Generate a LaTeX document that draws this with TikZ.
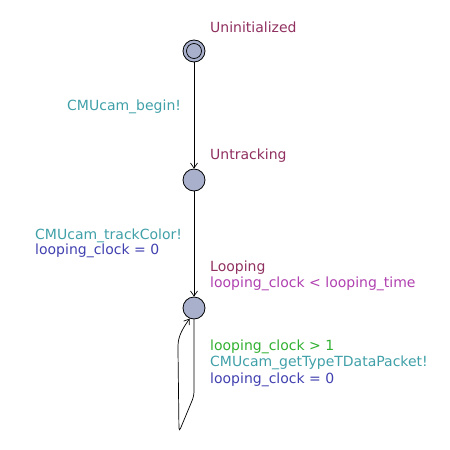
\documentclass[tikz,border=0pt]{standalone}
\usepackage{fontspec}
\setmainfont{DejaVu Sans}
\usepackage{xcolor}
\usepackage{tikz}
\usetikzlibrary{positioning,calc,arrows.meta}

\definecolor{locname}{RGB}{144,48,96}
\definecolor{syncclr}{RGB}{64,160,168}
\definecolor{assignclr}{RGB}{64,64,176}
\definecolor{guardclr}{RGB}{48,176,48}
\definecolor{invclr}{RGB}{176,64,176}
\definecolor{locfill}{RGB}{168,176,204}

\tikzset{
    loc/.style={circle, draw, fill=locfill, minimum size=22pt, inner sep=0pt, line width=0.8pt},
    lbl/.style={anchor=west, inner sep=0pt, font=\fontsize{14}{16}\selectfont, align=left},
    edge/.style={-{Straight Barb[length=5pt,width=7pt]}, line width=0.7pt}
}

\begin{document}
\begin{tikzpicture}[x=1pt, y=-1pt]
    \useasboundingbox (0,0) rectangle (450,450);

    % Locations
    \node[loc] (uninit) at (194,51) {};
    \node[circle, draw, minimum size=15pt, inner sep=0pt, line width=0.7pt] (uninitin) at (uninit) {};
    \node[loc] (untrack) at (194,180) {};
    \node[loc] (loop) at (194,308) {};

    % Location names and invariant
    \node[lbl, text=locname] (nuninit) at (210,27) {Uninitialized};
    \node[lbl, text=locname] (nuntrack) at (210,156) {Untracking};
    \node[lbl, text=locname] (nloop) at (210,268) {Looping};
    \node[lbl, text=invclr] (inv) at (210,284) {looping\_clock < looping\_time};

    % Edges
    \draw[edge] (uninit) -- (untrack);
    \draw[edge] (untrack) -- (loop);

    % Self loop on Looping
    \coordinate (lpa) at (194,396);
    \coordinate (lpb) at (179,432);
    \coordinate (lpc) at (178,350);
    \draw[edge, rounded corners=4pt] (loop.south) -- (lpa) -- (lpb) -- (lpc) [rounded corners=0pt] .. controls (178,336) and (183,328) .. (loop.-112);

    % Edge labels
    \node[lbl, text=syncclr] (sbegin) at (67,107) {CMUcam\_begin!};
    \node[lbl, text=syncclr] (strack) at (35,236) {CMUcam\_trackColor!};
    \node[lbl, text=assignclr] (atrack) at (35,251) {looping\_clock = 0};
    \node[lbl, text=guardclr] (gloop) at (210,347) {looping\_clock > 1};
    \node[lbl, text=syncclr] (sloop) at (210,363) {CMUcam\_getTypeTDataPacket!};
    \node[lbl, text=assignclr] (aloop) at (210,380) {looping\_clock = 0};
\end{tikzpicture}
\end{document}
